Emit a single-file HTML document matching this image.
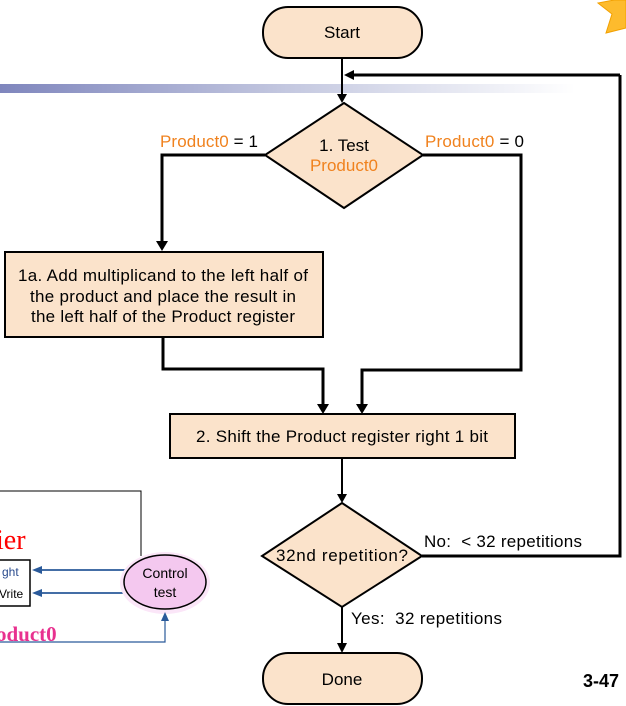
<!DOCTYPE html>
<html><head><meta charset="utf-8"><style>
html,body{margin:0;padding:0;background:#fff;}
svg{display:block;font-family:"Liberation Sans",Arial,sans-serif;}
</style></head><body>
<svg width="626" height="706" viewBox="0 0 626 706" xmlns="http://www.w3.org/2000/svg">
<defs>
<linearGradient id="g" x1="0" x2="1" y1="0" y2="0">
<stop offset="0" stop-color="#7f86bd"/><stop offset="0.5" stop-color="#c4c8e0"/><stop offset="1" stop-color="#ffffff"/>
</linearGradient>
</defs>
<rect x="0" y="84" width="575" height="9" fill="url(#g)"/>
<polygon points="614,0 626,0 626,28 606,33 612,14 598,3" fill="#fdbb2d" stroke="#f2a000" stroke-width="1"/>

<polyline points="0,491 141,491 141,556" fill="none" stroke="#000" stroke-width="1"/>
<text x="-4" y="549" font-family="Liberation Serif,serif" font-size="28" fill="#f00">ier</text>
<rect x="-2" y="560" width="32" height="46" fill="#fff" stroke="#000" stroke-width="1.5"/>
<text x="2" y="576" font-size="12" fill="#2a4b8d">ght</text>
<text x="-1" y="598" font-size="12" fill="#000">Vrite</text>
<line x1="125" y1="570" x2="36" y2="570" stroke="#2a5a9a" stroke-width="1.8"/>
<polygon points="32,570 42,566 42,574" fill="#2a5a9a"/>
<line x1="125" y1="593" x2="36" y2="593" stroke="#2a5a9a" stroke-width="1.8"/>
<polygon points="32,593 42,589 42,597" fill="#2a5a9a"/>
<ellipse cx="165" cy="583" rx="45" ry="31" fill="#fbe6f8"/>
<ellipse cx="165" cy="582" rx="41" ry="27" fill="#f4c8ef" stroke="#000" stroke-width="1.5"/>
<text x="165" y="578" font-size="14" text-anchor="middle">Control</text>
<text x="165" y="597" font-size="14" text-anchor="middle">test</text>
<polyline points="0,642 165,642 165,616" fill="none" stroke="#2a5a9a" stroke-width="1.2"/>
<polygon points="165,612 161,621 169,621" fill="#2a5a9a"/>
<text x="-4" y="641" font-family="Liberation Serif,serif" font-size="21" font-weight="bold" fill="#e8318f">oduct0</text>

<g stroke="#000" stroke-width="3" fill="none">
<polyline points="620,75 620,556 422,556"/>
<line x1="620" y1="75" x2="352" y2="75"/>
<polyline points="265,155 162,155 162,241"/>
<polyline points="423,155 521,155 521,370 362,370 362,404"/>
<polyline points="163,337 163,369 323,369 323,404"/>
</g>
<polygon points="344,75 354,70 354,80" fill="#000"/>
<polygon points="156,241 168,241 162,251" fill="#000"/>
<polygon points="317,404 329,404 323,414" fill="#000"/>
<polygon points="356,404 368,404 362,414" fill="#000"/>
<g stroke="#000" stroke-width="2">
<line x1="342" y1="58" x2="342" y2="94"/>
<line x1="342" y1="458" x2="342" y2="494"/>
<line x1="342" y1="607" x2="342" y2="643"/>
</g>
<polygon points="337,94 347,94 342,103" fill="#000"/>
<polygon points="337,494 347,494 342,503" fill="#000"/>
<polygon points="337,643 347,643 342,653" fill="#000"/>

<rect x="263" y="7" width="159" height="51" rx="25" fill="#fbe3cb" stroke="#000" stroke-width="2"/>
<text x="342" y="38" font-size="17" text-anchor="middle">Start</text>

<polygon points="344,103 423,155 344,208 265,155" fill="#fbe3cb" stroke="#000" stroke-width="2"/>
<text x="344" y="151" font-size="17" text-anchor="middle">1. Test</text>
<text x="344" y="171" font-size="17" text-anchor="middle" fill="#f0821e">Product0</text>
<text x="160" y="147" font-size="17" textLength="98"><tspan fill="#f0821e">Product0</tspan> = 1</text>
<text x="425" y="147" font-size="17" textLength="99"><tspan fill="#f0821e">Product0</tspan> = 0</text>

<rect x="5" y="252" width="318" height="85" fill="#fbe3cb" stroke="#000" stroke-width="2"/>
<text x="163" y="281" font-size="17" text-anchor="middle" textLength="290">1a. Add multiplicand to the left half of</text>
<text x="163" y="302" font-size="17" text-anchor="middle" textLength="266">the product and place the result in</text>
<text x="163" y="322" font-size="17" text-anchor="middle" textLength="264">the left half of the Product register</text>

<rect x="170" y="414" width="345" height="44" fill="#fbe3cb" stroke="#000" stroke-width="2"/>
<text x="342" y="442" font-size="17" text-anchor="middle" textLength="292">2. Shift the Product register right 1 bit</text>

<polygon points="342,503 422,556 342,607 262,556" fill="#fbe3cb" stroke="#000" stroke-width="2"/>
<text x="342" y="561" font-size="17" text-anchor="middle" textLength="132">32nd repetition?</text>
<text x="424" y="547" font-size="17" textLength="158">No:&#160; &lt; 32 repetitions</text>
<text x="351" y="624" font-size="17" textLength="151">Yes:&#160; 32 repetitions</text>

<rect x="263" y="653" width="159" height="51" rx="25" fill="#fbe3cb" stroke="#000" stroke-width="2"/>
<text x="342" y="685" font-size="17" text-anchor="middle">Done</text>

<text x="583" y="687" font-size="18" font-weight="bold">3-47</text>
</svg>
</body></html>
